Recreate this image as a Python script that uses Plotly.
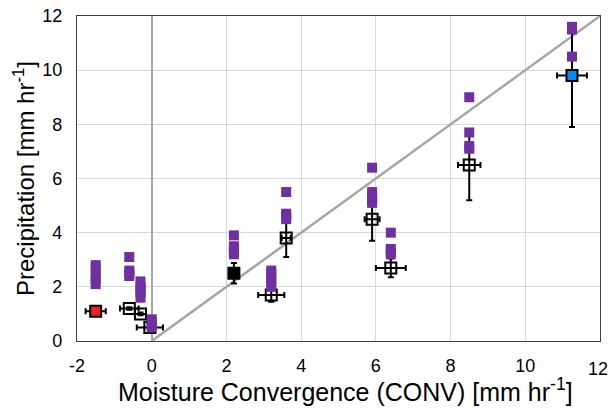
import plotly.graph_objects as go

# Mean points (CONV vs precipitation)
mean_x = [-1.5, -0.6, -0.3, -0.05, 2.2, 3.2, 3.6, 5.9, 6.4, 8.5, 11.25]
mean_y = [1.1, 1.2, 1.0, 0.5, 2.5, 1.7, 3.8, 4.5, 2.7, 6.5, 9.8]
mean_xerr = [0.27, 0.25, 0.15, 0.35, 0.08, 0.35, 0.12, 0.2, 0.4, 0.3, 0.4]
mean_yerr = [0.05, 0.05, 0.05, 0.05, 0.38, 0.25, 0.7, 0.8, 0.35, 1.3, 1.9]
mean_fill = ["#f21f1f", "rgba(0,0,0,0)", "rgba(0,0,0,0)", "rgba(0,0,0,0)", "#000000",
             "rgba(0,0,0,0)", "rgba(0,0,0,0)", "rgba(0,0,0,0)", "rgba(0,0,0,0)",
             "rgba(0,0,0,0)", "#0b86f0"]

# Individual member values (purple squares)
member_x = [-1.5] * 5 + [-0.6] * 4 + [-0.3] * 5 + [0.0] * 4 + [2.2] * 5 + [3.2] * 5 + \
           [3.6] * 4 + [5.9] * 5 + [6.4] * 4 + [8.5] * 4 + [11.25] * 3
member_y = [2.8, 2.7, 2.4, 2.3, 2.1,
            3.1, 2.6, 2.5, 2.4,
            2.2, 2.0, 1.9, 1.8, 1.6,
            0.8, 0.7, 0.6, 0.5,
            3.9, 3.5, 3.4, 3.3, 3.2,
            2.6, 2.5, 2.3, 2.2, 2.0,
            5.5, 4.7, 4.6, 4.5,
            6.4, 5.5, 5.3, 5.2, 5.1,
            4.0, 3.4, 3.3, 3.2,
            9.0, 7.7, 7.2, 7.1,
            11.6, 11.5, 10.5]

# 1:1 line
line_x = [0, 12]
line_y = [0, 12]

x_ticks = [-2, 0, 2, 4, 6, 8, 10, 12]
x_ticktext = ["-2", "0", "2", "4", "6", "8", "10", "12"]
y_ticks = [0, 2, 4, 6, 8, 10, 12]
y_ticktext = ["0", "2", "4", "6", "8", "10", "12"]
x_title = "Moisture Convergence (CONV) [mm hr<sup>-1</sup>]"
y_title = "Precipitation [mm hr<sup>-1</sup>]"

fig = go.Figure()

fig.add_trace(go.Scatter(x=line_x, y=line_y, mode="lines",
                         line=dict(color="#a6a6a6", width=2.5), hoverinfo="skip"))

fig.add_trace(go.Scatter(
    x=mean_x, y=mean_y, mode="markers",
    marker=dict(symbol="square", size=11, color=mean_fill,
                line=dict(color="black", width=2)),
    error_x=dict(type="data", array=mean_xerr, color="black", thickness=2, width=3),
    error_y=dict(type="data", array=mean_yerr, color="black", thickness=2, width=3),
))

fig.add_trace(go.Scatter(
    x=member_x, y=member_y, mode="markers",
    marker=dict(symbol="square", size=10, color="#7030a0", line=dict(width=0)),
))

# last x tick label drawn as annotation so that it is not dropped at the edge
fig.add_annotation(x=x_ticks[-1], xref="x", y=0, yref="paper", text=x_ticktext[-1],
                   showarrow=False, xanchor="right", yanchor="top", xshift=10, yshift=-16,
                   font=dict(size=18))
fig.add_annotation(x=0.514, xref="paper", y=0, yref="paper", text=x_title,
                   showarrow=False, xanchor="center", yanchor="middle", yshift=-49,
                   font=dict(size=25))

fig.update_layout(
    width=610, height=409,
    margin=dict(l=77, r=10, t=16, b=68),
    paper_bgcolor="white", plot_bgcolor="white",
    showlegend=False,
    font=dict(family="Liberation Sans, Arial, sans-serif", color="black"),
    xaxis=dict(range=[-2, 12], tickvals=x_ticks[:-1], ticktext=x_ticktext[:-1],
               ticks="outside", ticklen=8, tickcolor="rgba(0,0,0,0)",
               tickfont=dict(size=18), automargin=False,
               showgrid=True, gridcolor="#d9d9d9", gridwidth=1,
               zeroline=True, zerolinecolor="#a6a6a6", zerolinewidth=1.5,
               showline=True, linecolor="#404040", linewidth=1.2, mirror=True),
    yaxis=dict(range=[0, 12], tickvals=y_ticks, ticktext=y_ticktext,
               ticks="outside", ticklen=10, tickcolor="rgba(0,0,0,0)",
               tickfont=dict(size=18), automargin=False,
               showgrid=True, gridcolor="#d9d9d9", gridwidth=1,
               zeroline=False,
               showline=True, linecolor="#404040", linewidth=1.2, mirror=True,
               title=dict(text=y_title, font=dict(size=24), standoff=0)),
)

fig.write_html("out.html")
